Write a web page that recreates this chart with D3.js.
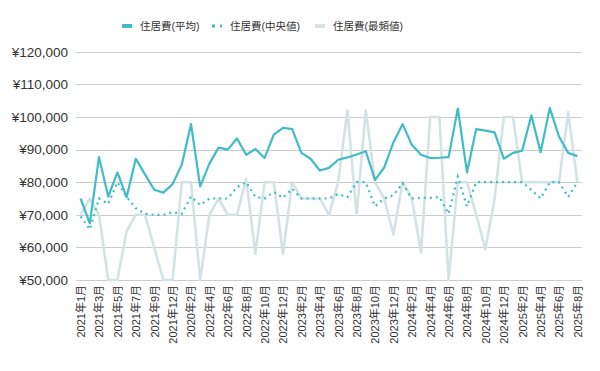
<!DOCTYPE html>
<html><head><meta charset="utf-8">
<script src="https://cdn.jsdelivr.net/npm/d3@7"></script>
<style>
body{margin:0;background:#fff;}
text{font-family:"Liberation Sans",Arial,"Noto Sans CJK JP",sans-serif;}
</style></head>
<body><svg id="c" width="600" height="371"></svg>
<script>
const categories = ["2021年1月","2021年2月","2021年3月","2021年4月","2021年5月","2021年6月","2021年7月","2021年8月","2021年9月","2021年10月","2021年12月","2022年1月","2020年2月","2022年3月","2022年4月","2022年5月","2022年6月","2022年7月","2022年8月","2022年9月","2022年10月","2022年11月","2022年12月","2023年1月","2023年2月","2023年3月","2023年4月","2023年5月","2023年6月","2023年7月","2023年8月","2023年9月","2023年10月","2023年11月","2023年12月","2024年1月","2024年2月","2024年3月","2024年4月","2024年5月","2024年6月","2024年7月","2024年8月","2024年9月","2024年10月","2024年11月","2024年12月","2025年1月","2025年2月","2025年3月","2025年4月","2025年5月","2025年6月","2025年7月","2025年8月"];
const meanValues = [75000,67400,87700,75600,83000,75400,87200,82400,77700,76800,79400,85400,97800,78700,85700,90600,90000,93400,88400,90200,87400,94600,96700,96300,89000,87200,83600,84400,86900,87600,88500,89500,80700,84500,92200,97800,91500,88400,87400,87500,87700,102600,83000,96300,95800,95300,87200,89000,89700,100500,89200,102800,94000,89000,88000];
const medianValues = [69500,65500,75000,73300,80000,75500,72000,70300,70000,70000,70800,70300,75600,73000,75000,75000,75000,78500,80000,75500,75000,77000,75200,78000,75000,75000,75000,75000,76400,75400,80000,80000,72600,75000,76000,79700,75000,75200,75200,75500,70300,81700,72600,80000,80000,80000,80000,80000,80000,77600,75000,80000,80000,75500,80000];
const modeValues = [70000,75000,70000,50000,50000,65000,70000,70000,60000,50000,50000,80000,80000,50000,70000,75000,70000,70000,81000,58000,80000,80000,58000,80000,75000,75000,75000,70000,80000,102000,70000,102000,80000,75000,64000,80000,75000,58500,100000,100000,50000,80000,80000,70000,59500,75000,100000,100000,80000,80000,80000,80000,80000,101500,80000];
const yTicks = [50000,60000,70000,80000,90000,100000,110000,120000];
const seriesNames = ["住居費(平均)","住居費(中央値)","住居費(最頻値)"];

const svg = d3.select("#c");
const mLeft = 76, mRight = 582, mTop = 51.8, mBottom = 280;
const x = d3.scalePoint().domain(categories).range([mLeft, mRight]).padding(0.5);
const y = d3.scaleLinear().domain([50000,120000]).range([mBottom, mTop]);

// grid
svg.append("g").selectAll("line").data(yTicks).join("line")
  .attr("x1", mLeft).attr("x2", mRight)
  .attr("y1", d=>Math.round(y(d))+0.5).attr("y2", d=>Math.round(y(d))+0.5)
  .attr("stroke", "#cccccc").attr("stroke-width", 1);

// y axis labels
const fmt = d => "¥" + d3.format(",")(d);
const yAxis = d3.axisLeft(y).tickValues(yTicks).tickFormat(fmt).tickSize(0).tickPadding(8);
const gy = svg.append("g").attr("transform", `translate(${mLeft},0)`).call(yAxis);
gy.select(".domain").remove();
gy.attr("font-family", null);
gy.selectAll("text").attr("font-size", 13.5).attr("fill", "#333");

// x axis labels
const xAxis = d3.axisBottom(x).tickValues(categories.filter((d,i)=>i%2===0)).tickSize(0).tickPadding(0);
const gx = svg.append("g").attr("transform", `translate(0,${mBottom})`).call(xAxis);
gx.select(".domain").remove();
gx.attr("font-family", null);
gx.selectAll("text")
  .attr("font-size", 11).attr("fill", "#333")
  .attr("text-anchor", "end")
  .attr("transform", "rotate(-90)")
  .attr("x", -5).attr("y", 0).attr("dy", "0.35em");

const line = d3.line().x((d,i)=>x(categories[i])).y(d=>y(d));

svg.append("path").datum(modeValues).attr("d", line)
  .attr("fill","none").attr("stroke","#d3e3e5").attr("stroke-width",2.6).attr("stroke-linejoin","round");
svg.append("path").datum(medianValues).attr("d", line)
  .attr("fill","none").attr("stroke","#3fbcc6").attr("stroke-width",2.2).attr("stroke-dasharray","2,4");
svg.append("path").datum(meanValues).attr("d", line)
  .attr("fill","none").attr("stroke","#3fbcc6").attr("stroke-width",2.2).attr("stroke-linejoin","round");

// legend
const lg = svg.append("g");
const items = [
  {name: seriesNames[0], x: 122, color:"#3fbcc6", dash:null},
  {name: seriesNames[1], x: 212, color:"#3fbcc6", dash:"3,5"},
  {name: seriesNames[2], x: 315, color:"#d3e3e5", dash:null}
];
items.forEach(it=>{
  lg.append("line").attr("x1", it.x).attr("x2", it.x+10).attr("y1",26).attr("y2",26)
    .attr("stroke", it.color).attr("stroke-width", it.dash?3:4).attr("stroke-dasharray", it.dash);
  lg.append("text").attr("x", it.x+18).attr("y", 26).attr("dy","0.35em")
    .attr("font-size", 10.5).attr("fill","#333").text(it.name);
});
</script></body></html>
